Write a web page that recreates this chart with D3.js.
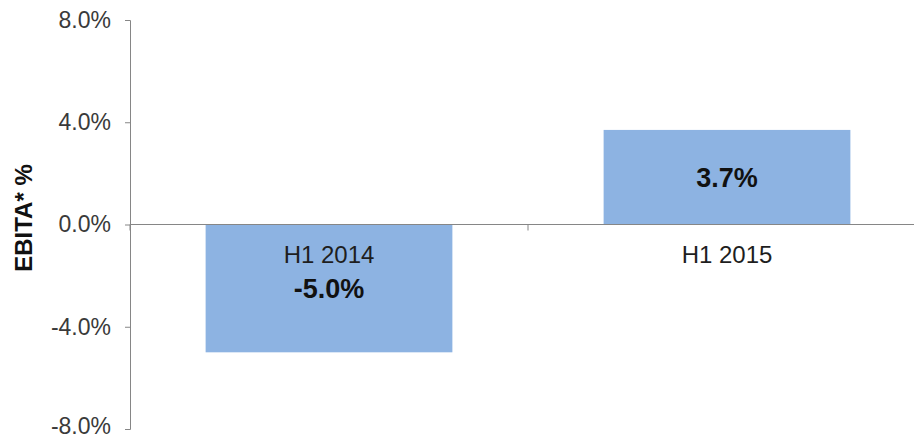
<!DOCTYPE html>
<html>
<head>
<meta charset="utf-8">
<script src="https://cdn.jsdelivr.net/npm/d3@7"></script>
<style>
  body { margin: 0; background: #fff; }
  svg text { font-family: Arial, "Liberation Sans", sans-serif; }
</style>
</head>
<body>
<div id="chart"></div>
<script>
// chart data
var categories = ["H1 2014", "H1 2015"];
var values = [-5.0, 3.7];
var yTicks = [-8, -4, 0, 4, 8];
var yTitle = "EBITA* %";

var width = 914, height = 440;
var margin = {top: 20, right: -12, bottom: 11, left: 130};

var svg = d3.select("#chart").append("svg")
    .attr("width", width)
    .attr("height", height);

var x = d3.scaleBand()
    .domain(categories)
    .range([margin.left, width - margin.right])
    .paddingInner(0.38)
    .paddingOuter(0.19);

var y = d3.scaleLinear()
    .domain([-8, 8])
    .range([height - margin.bottom, margin.top]);

// plain hyphen for negatives, like the original
var fmt = function(d) { return (d < 0 ? "-" : "") + Math.abs(d).toFixed(1) + "%"; };

// bars
svg.append("g")
    .selectAll("rect")
    .data(values)
    .enter().append("rect")
        .attr("x", function(d, i) { return x(categories[i]); })
        .attr("y", function(d) { return y(Math.max(0, d)); })
        .attr("width", x.bandwidth())
        .attr("height", function(d) { return Math.abs(y(d) - y(0)); })
        .attr("fill", "#8DB3E2");

// y axis
var yAxis = svg.append("g")
    .attr("transform", "translate(" + margin.left + ",0)")
    .call(d3.axisLeft(y).tickValues(yTicks).tickFormat(fmt).tickSize(5).tickSizeOuter(5).tickPadding(14));

yAxis.select(".domain").attr("stroke", "#868686");
yAxis.selectAll(".tick line").attr("stroke", "#868686");
yAxis.selectAll(".tick text")
    .attr("font-size", "23px")
    .attr("fill", "#3a3a3a");

// keep the lowest label inside the window
yAxis.selectAll(".tick text")
    .filter(function(d) { return d == yTicks[0]; })
    .attr("y", -3);

// x axis line with ticks on category boundaries
var xAxis = svg.append("g");
xAxis.append("line")
    .attr("x1", x.range()[0])
    .attr("x2", x.range()[1])
    .attr("y1", y(0))
    .attr("y2", y(0))
    .attr("stroke", "#868686");

xAxis.selectAll(".xtick")
    .data(d3.range(categories.length + 1))
    .enter().append("line")
        .attr("class", "xtick")
        .attr("x1", function(i) { return x.range()[0] + i * x.step(); })
        .attr("x2", function(i) { return x.range()[0] + i * x.step(); })
        .attr("y1", y(0))
        .attr("y2", y(0) + 6)
        .attr("stroke", "#868686");

// category labels below the zero line
svg.append("g")
    .selectAll("text")
    .data(categories)
    .enter().append("text")
        .attr("x", function(d) { return x(d) + x.bandwidth() / 2; })
        .attr("y", y(0) + 38)
        .attr("text-anchor", "middle")
        .attr("font-size", "24px")
        .attr("fill", "#1e1e1e")
        .text(function(d) { return d; });

// value labels in the middle of each bar
svg.append("g")
    .selectAll("text")
    .data(values)
    .enter().append("text")
        .attr("x", function(d, i) { return x(categories[i]) + x.bandwidth() / 2; })
        .attr("y", function(d) { return (y(d) + y(0)) / 2; })
        .attr("dy", "0.36em")
        .attr("text-anchor", "middle")
        .attr("font-size", "27px")
        .attr("font-weight", "bold")
        .attr("fill", "#111")
        .text(function(d) { return fmt(d); });

// y axis title
svg.append("text")
    .attr("transform", "translate(32," + 218 + ") rotate(-90)")
    .attr("text-anchor", "middle")
    .attr("font-size", "24px")
    .attr("font-weight", "bold")
    .attr("fill", "#111")
    .text(yTitle);
</script>
</body>
</html>
